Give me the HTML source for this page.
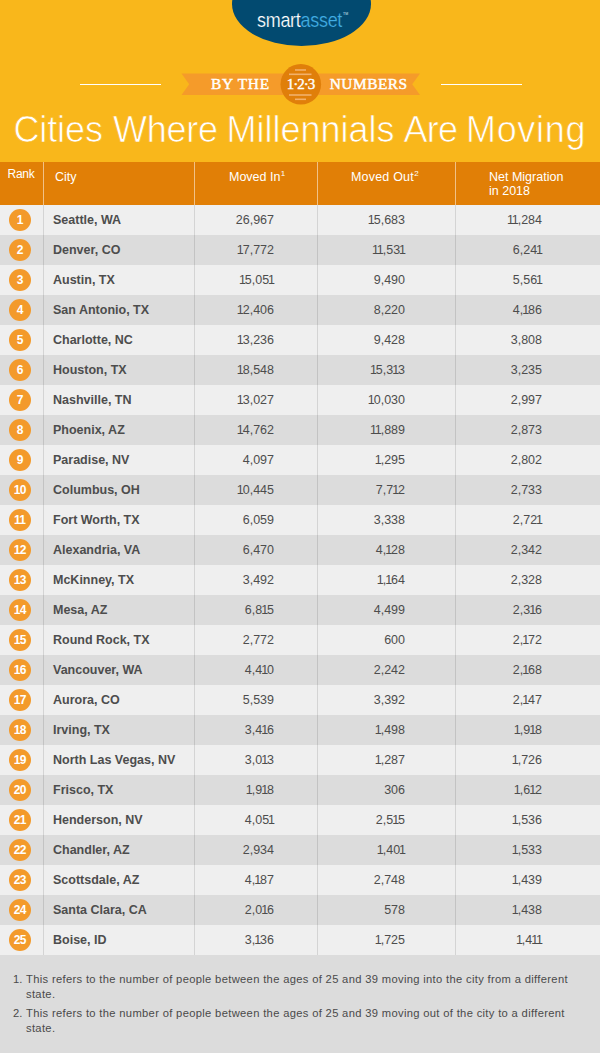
<!DOCTYPE html>
<html><head><meta charset="utf-8">
<style>
*{margin:0;padding:0;box-sizing:border-box}
html,body{width:600px;height:1053px;overflow:hidden;background:#F9B71B;font-family:"Liberation Sans",sans-serif}
.wrap{position:relative;width:600px;height:1053px;overflow:hidden}
.logo{position:absolute;left:231.5px;top:-38px;width:139px;height:84px;border-radius:50%;background:#024A70}
.lt{position:absolute;left:257px;top:10px;font-size:18px;line-height:20px;white-space:nowrap;color:#fff;letter-spacing:-0.3px;-webkit-text-stroke:0.2px #024A70;transform:scaleY(1.08);transform-origin:0 0}
.lt b{font-weight:normal;color:#41ADE4}
.lt i{font-style:normal;font-size:3.5px;line-height:4px;position:absolute;left:86px;top:2px;letter-spacing:0;-webkit-text-stroke:0;color:#d8ecf7}
.line{position:absolute;top:83.5px;height:1.4px;background:#fff}
.title{position:absolute;left:0;top:109px;width:600px;height:45px;color:#fff;font-size:36px;white-space:nowrap;-webkit-text-stroke:0.7px #F9B71B}
.title span{position:absolute;top:0}
.hdr{position:absolute;left:0;top:162px;width:600px;height:43px;background:#E17F06;color:#fff;font-size:12.5px}
.hdr span{position:absolute;white-space:nowrap;line-height:13.6px}
.hdr sup{font-size:8px;line-height:0;vertical-align:0;position:relative;top:-5.5px;margin-left:0.3px}
.row{position:absolute;left:0;width:600px;height:30px;color:#4D4D4D;font-size:12.5px}
.row.l{background:#EFEFEF}
.row.d{background:#DCDCDC}
.row span{position:absolute;top:8px;white-space:nowrap}
.rk{left:9px;width:22px;height:22px;top:4px!important;border-radius:50%;background:#F39A2B;color:#fff;font-weight:bold;text-align:center;line-height:22px;font-size:12px;letter-spacing:-0.6px;text-indent:-0.6px}
.ct{left:53px;font-weight:bold}
.row i{font-style:normal;margin:0 -1.05px}
.n1{right:326px}
.n2{right:195px}
.n3{right:58px}
.vl{position:absolute;top:162px;width:1px;height:793px;background:rgba(0,0,0,0.11)}
.vh{position:absolute;top:162px;width:1px;height:43px;background:#F1C186}
.foot{position:absolute;left:0;top:955px;width:600px;height:98px;background:#DCDCDC;color:#4A4A4A;font-size:11.2px}
.foot div{position:absolute;left:26px;width:574px;line-height:15px;letter-spacing:0.33px;white-space:nowrap}
.foot div span{position:absolute;left:-13px;letter-spacing:0}
</style></head><body><div class="wrap">
<div class="logo"></div>
<div class="lt">smart<b>asset</b><i>TM</i></div>
<div class="line" style="left:80px;width:81px"></div>
<div class="line" style="left:441px;width:81px"></div>
<svg style="position:absolute;left:0;top:0" width="600" height="110">
<polygon points="181.5,73.6 298,73.6 298,95 181.5,95 189.2,84.3" fill="#F59B2A"/>
<polygon points="304,73.6 420,73.6 412.2,84.3 420,95 304,95" fill="#F59B2A"/>
<circle cx="300.8" cy="84.3" r="20.3" fill="#E07F0A"/>
<g stroke="#F2B16A" stroke-width="1.6">
<line x1="295" y1="70" x2="306" y2="70"/>
<line x1="289" y1="74.3" x2="311.5" y2="74.3"/>
<line x1="289" y1="95" x2="311.5" y2="95"/>
<line x1="295" y1="99.3" x2="306" y2="99.3"/>
</g>
<text x="240.5" y="89.4" font-family="Liberation Serif" font-size="15.4" fill="#fff" stroke="#fff" stroke-width="0.45" text-anchor="middle" letter-spacing="0.75">BY THE</text>
<text x="368.7" y="89.4" font-family="Liberation Serif" font-size="15.4" fill="#fff" stroke="#fff" stroke-width="0.45" text-anchor="middle" letter-spacing="0.5">NUMBERS</text>
<text x="300.6" y="88.8" font-family="Liberation Serif" font-size="15" fill="#fff" stroke="#fff" stroke-width="0.4" text-anchor="middle" letter-spacing="-1">1·2·3</text>
</svg>
<div class="title"><span style="left:13.4px;letter-spacing:-0.1px">Cities</span><span style="left:112.9px;letter-spacing:-0.2px">Where</span><span style="left:226.5px;letter-spacing:0px">Millennials</span><span style="left:403.6px;letter-spacing:-0.75px">Are</span><span style="left:466px;letter-spacing:0.68px">Moving</span></div>
<div class="hdr"><span style="left:7.5px;top:5.5px;font-size:12px;letter-spacing:-0.25px">Rank</span><span style="left:55px;top:9px">City</span><span style="left:229px;top:9px">Moved In<sup>1</sup></span><span style="left:351px;top:9px;letter-spacing:0.2px">Moved Out<sup>2</sup></span><span style="left:489px;top:9px">Net Migration<br>in 2018</span></div>
<div class="row l" style="top:205px"><span class="rk">1</span><span class="ct">Seattle, WA</span><span class="n1">26,967</span><span class="n2"><i>1</i>5,683</span><span class="n3"><i>1</i><i>1</i>,284</span></div>
<div class="row d" style="top:235px"><span class="rk">2</span><span class="ct">Denver, CO</span><span class="n1"><i>1</i>7,772</span><span class="n2"><i>1</i><i>1</i>,53<i>1</i></span><span class="n3">6,24<i>1</i></span></div>
<div class="row l" style="top:265px"><span class="rk">3</span><span class="ct">Austin, TX</span><span class="n1"><i>1</i>5,05<i>1</i></span><span class="n2">9,490</span><span class="n3">5,56<i>1</i></span></div>
<div class="row d" style="top:295px"><span class="rk">4</span><span class="ct">San Antonio, TX</span><span class="n1"><i>1</i>2,406</span><span class="n2">8,220</span><span class="n3">4,<i>1</i>86</span></div>
<div class="row l" style="top:325px"><span class="rk">5</span><span class="ct">Charlotte, NC</span><span class="n1"><i>1</i>3,236</span><span class="n2">9,428</span><span class="n3">3,808</span></div>
<div class="row d" style="top:355px"><span class="rk">6</span><span class="ct">Houston, TX</span><span class="n1"><i>1</i>8,548</span><span class="n2"><i>1</i>5,3<i>1</i>3</span><span class="n3">3,235</span></div>
<div class="row l" style="top:385px"><span class="rk">7</span><span class="ct">Nashville, TN</span><span class="n1"><i>1</i>3,027</span><span class="n2"><i>1</i>0,030</span><span class="n3">2,997</span></div>
<div class="row d" style="top:415px"><span class="rk">8</span><span class="ct">Phoenix, AZ</span><span class="n1"><i>1</i>4,762</span><span class="n2"><i>1</i><i>1</i>,889</span><span class="n3">2,873</span></div>
<div class="row l" style="top:445px"><span class="rk">9</span><span class="ct">Paradise, NV</span><span class="n1">4,097</span><span class="n2"><i>1</i>,295</span><span class="n3">2,802</span></div>
<div class="row d" style="top:475px"><span class="rk">10</span><span class="ct">Columbus, OH</span><span class="n1"><i>1</i>0,445</span><span class="n2">7,7<i>1</i>2</span><span class="n3">2,733</span></div>
<div class="row l" style="top:505px"><span class="rk">11</span><span class="ct">Fort Worth, TX</span><span class="n1">6,059</span><span class="n2">3,338</span><span class="n3">2,72<i>1</i></span></div>
<div class="row d" style="top:535px"><span class="rk">12</span><span class="ct">Alexandria, VA</span><span class="n1">6,470</span><span class="n2">4,<i>1</i>28</span><span class="n3">2,342</span></div>
<div class="row l" style="top:565px"><span class="rk">13</span><span class="ct">McKinney, TX</span><span class="n1">3,492</span><span class="n2"><i>1</i>,<i>1</i>64</span><span class="n3">2,328</span></div>
<div class="row d" style="top:595px"><span class="rk">14</span><span class="ct">Mesa, AZ</span><span class="n1">6,8<i>1</i>5</span><span class="n2">4,499</span><span class="n3">2,3<i>1</i>6</span></div>
<div class="row l" style="top:625px"><span class="rk">15</span><span class="ct">Round Rock, TX</span><span class="n1">2,772</span><span class="n2">600</span><span class="n3">2,<i>1</i>72</span></div>
<div class="row d" style="top:655px"><span class="rk">16</span><span class="ct">Vancouver, WA</span><span class="n1">4,4<i>1</i>0</span><span class="n2">2,242</span><span class="n3">2,<i>1</i>68</span></div>
<div class="row l" style="top:685px"><span class="rk">17</span><span class="ct">Aurora, CO</span><span class="n1">5,539</span><span class="n2">3,392</span><span class="n3">2,<i>1</i>47</span></div>
<div class="row d" style="top:715px"><span class="rk">18</span><span class="ct">Irving, TX</span><span class="n1">3,4<i>1</i>6</span><span class="n2"><i>1</i>,498</span><span class="n3"><i>1</i>,9<i>1</i>8</span></div>
<div class="row l" style="top:745px"><span class="rk">19</span><span class="ct">North Las Vegas, NV</span><span class="n1">3,0<i>1</i>3</span><span class="n2"><i>1</i>,287</span><span class="n3"><i>1</i>,726</span></div>
<div class="row d" style="top:775px"><span class="rk">20</span><span class="ct">Frisco, TX</span><span class="n1"><i>1</i>,9<i>1</i>8</span><span class="n2">306</span><span class="n3"><i>1</i>,6<i>1</i>2</span></div>
<div class="row l" style="top:805px"><span class="rk">21</span><span class="ct">Henderson, NV</span><span class="n1">4,05<i>1</i></span><span class="n2">2,5<i>1</i>5</span><span class="n3"><i>1</i>,536</span></div>
<div class="row d" style="top:835px"><span class="rk">22</span><span class="ct">Chandler, AZ</span><span class="n1">2,934</span><span class="n2"><i>1</i>,40<i>1</i></span><span class="n3"><i>1</i>,533</span></div>
<div class="row l" style="top:865px"><span class="rk">23</span><span class="ct">Scottsdale, AZ</span><span class="n1">4,<i>1</i>87</span><span class="n2">2,748</span><span class="n3"><i>1</i>,439</span></div>
<div class="row d" style="top:895px"><span class="rk">24</span><span class="ct">Santa Clara, CA</span><span class="n1">2,0<i>1</i>6</span><span class="n2">578</span><span class="n3"><i>1</i>,438</span></div>
<div class="row l" style="top:925px"><span class="rk">25</span><span class="ct">Boise, ID</span><span class="n1">3,<i>1</i>36</span><span class="n2"><i>1</i>,725</span><span class="n3"><i>1</i>,4<i>1</i><i>1</i></span></div><div class="vl" style="left:43px"></div>
<div class="vl" style="left:194px"></div>
<div class="vl" style="left:317px"></div>
<div class="vl" style="left:455px"></div>
<div class="vh" style="left:43px"></div><div class="vh" style="left:194px"></div><div class="vh" style="left:317px"></div><div class="vh" style="left:455px"></div>
<div class="foot">
<div style="top:17px"><span>1.</span>This refers to the number of people between the ages of 25 and 39 moving into the city from a different<br>state.</div>
<div style="top:51px"><span>2.</span>This refers to the number of people between the ages of 25 and 39 moving out of the city to a different<br>state.</div>
</div>
</div></body></html>
